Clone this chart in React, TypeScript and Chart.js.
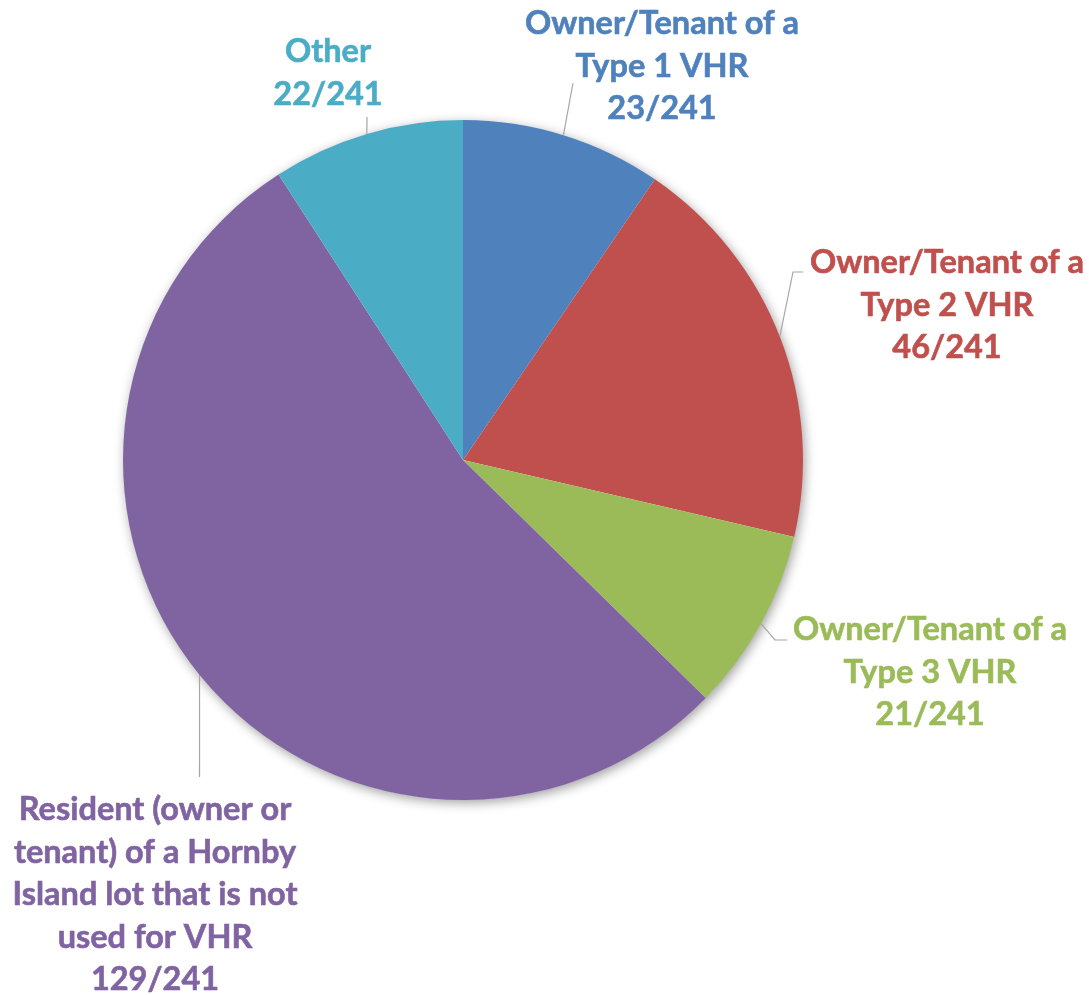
import React, { useEffect, useRef } from "react";
import { Chart, registerables } from "chart.js";

Chart.register(...registerables);

// ---- Data ----
const categories = [
  "Owner/Tenant of a Type 1 VHR",
  "Owner/Tenant of a Type 2 VHR",
  "Owner/Tenant of a Type 3 VHR",
  "Resident (owner or tenant) of a Hornby Island lot that is not used for VHR",
  "Other",
];
const labelLines = [
  ["Owner/Tenant of a", "Type 1 VHR"],
  ["Owner/Tenant of a", "Type 2 VHR"],
  ["Owner/Tenant of a", "Type 3 VHR"],
  ["Resident (owner or", "tenant) of a Hornby", "Island lot that is not", "used for VHR"],
  ["Other"],
];
const responses = [23, 46, 21, 129, 22];
const totalResponses = 241;

// ---- Styles / layout ----
const sliceColors = ["#4F81BD", "#C0504D", "#9BBB59", "#8064A2", "#4BACC6"];
const FONT = "bold 32.5px Lato, 'Open Sans', sans-serif";
const LINE_H = 42.5;
// label centre x, first baseline y, leader-line points after the arc edge
const labelLayout = [
  { x: 662, y: 34, path: [[573, 83]] },
  { x: 947, y: 273, path: [[793, 272], [803, 272]] },
  { x: 930, y: 640, path: [[775, 640], [787, 640]] },
  { x: 155, y: 820, path: [[199.5, 777]] },
  { x: 328, y: 62, path: [[367, 117]] },
];

const shadowPlugin = {
  id: "pieShadow",
  beforeDatasetsDraw(chart: any) {
    const arc = chart.getDatasetMeta(0).data[0];
    if (!arc) return;
    const { x, y, outerRadius } = arc.getProps(["x", "y", "outerRadius"], true);
    const ctx = chart.ctx;
    ctx.save();
    ctx.shadowColor = "rgba(0,0,0,0.4)";
    ctx.shadowBlur = 12;
    ctx.shadowOffsetX = 2;
    ctx.shadowOffsetY = 3;
    ctx.beginPath();
    ctx.arc(x, y, outerRadius - 0.5, 0, Math.PI * 2);
    ctx.fillStyle = "#ffffff";
    ctx.fill();
    ctx.restore();
  },
};

const labelPlugin = {
  id: "pieLabels",
  afterDatasetsDraw(chart: any) {
    const ctx = chart.ctx;
    const meta = chart.getDatasetMeta(0);
    meta.data.forEach((arc: any, i: number) => {
      const { x, y, startAngle, endAngle, outerRadius } = arc.getProps(
        ["x", "y", "startAngle", "endAngle", "outerRadius"],
        true
      );
      const mid = (startAngle + endAngle) / 2;
      const sx = x + Math.cos(mid) * outerRadius;
      const sy = y + Math.sin(mid) * outerRadius;
      const lay = labelLayout[i];
      ctx.save();
      ctx.strokeStyle = "#A6A6A6";
      ctx.lineWidth = 1.2;
      ctx.beginPath();
      ctx.moveTo(sx, sy);
      lay.path.forEach((p) => ctx.lineTo(p[0], p[1]));
      ctx.stroke();

      const lines = [...labelLines[i], `${responses[i]}/${totalResponses}`];
      ctx.fillStyle = sliceColors[i];
      ctx.font = FONT;
      ctx.textAlign = "center";
      ctx.textBaseline = "alphabetic";
      ctx.strokeStyle = sliceColors[i];
      ctx.lineWidth = 0.6;
      lines.forEach((t, k) => {
        ctx.fillText(t, lay.x, lay.y + k * LINE_H);
        ctx.strokeText(t, lay.x, lay.y + k * LINE_H);
      });
      ctx.restore();
    });
  },
};

export default function App() {
  const ref = useRef<HTMLCanvasElement | null>(null);
  useEffect(() => {
    if (!ref.current) return;
    const chart = new Chart(ref.current, {
      type: "pie",
      data: {
        labels: categories,
        datasets: [
          {
            data: responses,
            backgroundColor: sliceColors,
            borderWidth: 0,
          },
        ],
      },
      options: {
        responsive: false,
        animation: false,
        layout: { padding: { left: 123, right: 286, top: 120, bottom: 195 } },
        plugins: {
          legend: { display: false },
          tooltip: { enabled: false },
        },
      },
      plugins: [shadowPlugin, labelPlugin],
    });
    return () => chart.destroy();
  }, []);
  return (
    <div style={{ position: "absolute", left: 0, top: 0, width: 1089, height: 995, background: "#fff" }}>
      <canvas ref={ref} width={1089} height={995} style={{ display: "block" }} />
    </div>
  );
}
